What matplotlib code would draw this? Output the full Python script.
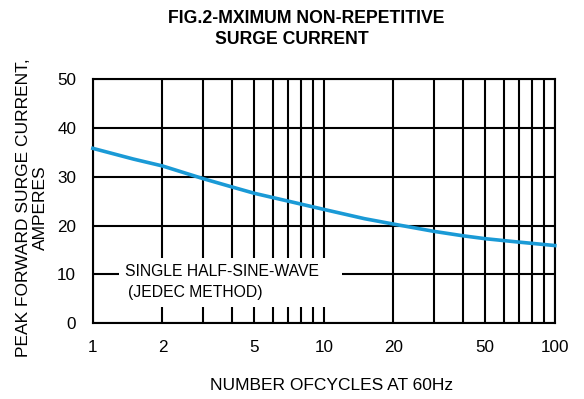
import matplotlib.pyplot as plt
from matplotlib.patches import Rectangle

plt.rcParams['font.family'] = ['Liberation Sans', 'DejaVu Sans']

# curve
cycles = [1, 1.5, 2, 3, 4, 5, 7, 10, 15, 20, 30, 40, 50, 70, 100]
current = [35.8, 33.6, 32.2, 29.6, 27.9, 26.6, 25.0, 23.3, 21.4, 20.3, 18.8, 17.9, 17.3, 16.6, 15.9]

major_x = [1, 2, 5, 10, 20, 50, 100]
major_labels = ["1", "2", "5", "10", "20", "50", "100"]
minor_x = [3, 4, 6, 7, 8, 9, 30, 40, 60, 70, 80, 90]
y_ticks = [0, 10, 20, 30, 40, 50]

fig = plt.figure(figsize=(5.84, 3.99), dpi=100)
ax = fig.add_axes([0.159, 0.190, 0.791, 0.612])

ax.set_xscale('log')
ax.set_xlim(1, 100)
ax.set_ylim(0, 50)
ax.set_xticks(major_x)
ax.set_xticklabels(major_labels)
ax.set_xticks(minor_x, minor=True)
ax.set_xticklabels([], minor=True)
ax.set_yticks(y_ticks)

ax.set_axisbelow(True)
ax.grid(True, which='both', color='black', linewidth=1.5)
ax.tick_params(which='both', length=0, labelsize=12.3)
ax.tick_params(axis='x', pad=12)
ax.tick_params(axis='y', pad=12)
for s in ax.spines.values():
    s.set_linewidth(1.5)

# white box behind the note
ax.add_patch(Rectangle((1.3, 3.3), 10.7, 10.0, facecolor='white',
                       edgecolor='none', zorder=1))
ax.text(1.38, 10.6, "SINGLE HALF-SINE-WAVE", fontsize=11.3, va='center', zorder=3)
ax.text(1.42, 6.3, "(JEDEC METHOD)", fontsize=11.3, va='center', zorder=3)

ax.plot(cycles, current, color='#1a9ad6', linewidth=2.6, zorder=4, clip_on=False)

fig.text(0.524, 0.954, "FIG.2-MXIMUM NON-REPETITIVE", ha='center', va='center',
         fontsize=12.7, fontweight='bold')
fig.text(0.499, 0.902, "SURGE CURRENT", ha='center', va='center',
         fontsize=12.7, fontweight='bold')
fig.text(0.568, 0.033, "NUMBER OFCYCLES AT 60Hz", ha='center', va='center', fontsize=12.5)
fig.text(0.055, 0.48, "PEAK FORWARD SURGE CURRENT,\nAMPERES", ha='center', va='center',
         rotation=90, fontsize=12.5, linespacing=1.15)

fig.savefig("out.png", dpi=100)
